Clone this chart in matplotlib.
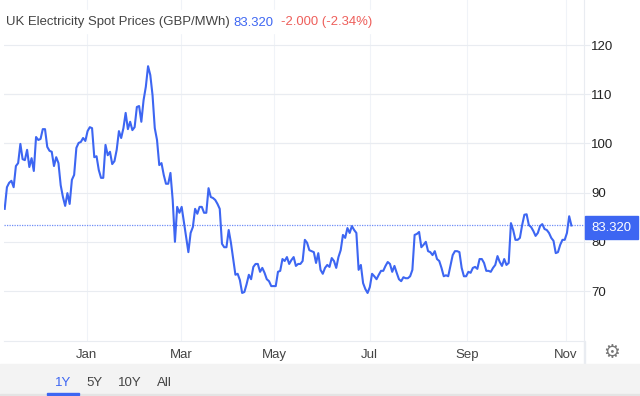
import numpy as np
import matplotlib
matplotlib.use("Agg")
import matplotlib.pyplot as plt
from matplotlib.patches import Rectangle

plt.rcParams['font.family'] = ['Liberation Sans', 'DejaVu Sans']

# one value per trading session
prices = [86.7, 91.1, 92.0, 92.4, 91.1, 95.4, 96.0, 99.9, 96.8, 96.6,
          98.7, 95.2, 97.0, 94.4, 101.3, 100.7, 100.9, 102.9, 102.9, 99.3,
          98.5, 98.3, 95.4, 97.2, 96.0, 91.5, 89.1, 87.3, 89.9, 87.7,
          92.6, 93.6, 99.1, 100.1, 100.3, 101.1, 100.5, 102.5, 103.3, 103.1,
          97.2, 97.4, 94.6, 93.0, 93.0, 99.7, 97.6, 98.3, 95.8, 96.4,
          98.7, 102.5, 101.1, 103.1, 106.2, 102.9, 104.4, 102.7, 103.3, 107.4,
          107.6, 104.4, 108.8, 111.5, 115.7, 113.9, 109.8, 103.1, 100.7, 95.6,
          96.0, 93.6, 91.8, 91.8, 94.0, 88.5, 80.0, 87.1, 85.9, 87.1,
          84.0, 81.0, 77.9, 81.8, 83.0, 86.7, 85.7, 87.1, 87.1, 85.9,
          85.9, 90.9, 89.1, 88.9, 88.5, 87.7, 86.7, 79.6, 78.9, 78.9,
          82.4, 79.8, 76.5, 73.3, 73.5, 72.2, 69.6, 69.8, 71.4, 73.3,
          72.4, 74.9, 75.5, 75.5, 73.9, 74.7, 73.7, 72.4, 72.0, 71.0,
          71.0, 71.0, 73.9, 74.1, 76.5, 76.1, 76.9, 75.5, 76.3, 76.9,
          75.1, 75.5, 75.5, 76.1, 80.4, 79.8, 78.3, 78.1, 77.9, 75.7,
          77.7, 74.3, 73.5, 74.7, 75.3, 74.9, 76.7, 76.1, 74.7, 76.9,
          78.3, 81.4, 80.8, 82.8, 81.8, 83.2, 82.4, 81.8, 74.3, 75.3,
          71.6, 70.4, 69.6, 70.8, 73.5, 73.0, 72.4, 73.3, 74.1, 74.1,
          75.1, 75.9, 75.5, 73.9, 75.1, 73.7, 72.4, 72.0, 72.8, 72.6,
          72.6, 73.0, 74.3, 81.4, 81.6, 82.0, 78.9, 79.4, 80.0, 78.1,
          77.9, 77.3, 78.1, 76.5, 76.1, 74.7, 73.0, 73.2, 73.0, 75.1,
          77.3, 78.1, 78.1, 77.9, 74.7, 73.0, 73.0, 73.9, 73.7, 74.7,
          74.9, 74.5, 76.5, 76.5, 75.7, 74.1, 74.1, 73.9, 74.7, 75.3,
          77.1, 75.9, 75.1, 76.5, 75.3, 75.7, 83.8, 82.4, 80.4, 80.4,
          80.8, 83.4, 85.5, 85.6, 83.4, 83.0, 82.2, 81.2, 81.8, 83.2,
          83.6, 82.6, 82.4, 81.8, 80.8, 80.2, 77.7, 77.9, 79.4, 80.4,
          80.4, 81.8, 85.2, 83.32]
last_label = "83.320"
change_label = "-2.000 (-2.34%)"
title = "UK Electricity Spot Prices (GBP/MWh)"
month_ticks = [36.7, 78.7, 120.4, 162.9, 206.6, 250.6]
month_labels = ["Jan", "Mar", "May", "Jul", "Sep", "Nov"]
price_ticks = [70, 80, 90, 100, 110, 120]
ranges = ["1Y", "5Y", "10Y", "All"]

W, H = 640, 396
BLUE = '#3d66f2'
GRID = '#e9ecf1'
def fx(p): return p / W
def fy(p): return 1 - p / H

fig = plt.figure(figsize=(6.4, 3.96), dpi=100, facecolor='white')
ax = fig.add_axes([fx(4), fy(341), (584.3 - 4) / W, 341 / H])
ax.plot(np.arange(len(prices)), prices, color=BLUE, lw=1.5, solid_joinstyle='round', zorder=3)
ax.axhline(prices[-1], color='#6f8df7', lw=0.9, ls=(0, (1, 1)), zorder=2)
ax.set_xlim(-0.31, 258.75)
ax.set_ylim(59.84, 129.15)

ax.set_xticks(month_ticks)
ax.set_xticklabels(month_labels, fontsize=9.5, color='#444444')
ax.set_yticks(price_ticks)
ax.set_yticklabels([str(v) for v in price_ticks], fontsize=9.5, color='#222222')
ax.yaxis.tick_right()
ax.tick_params(axis='x', length=0, pad=6)
ax.tick_params(axis='y', length=4, width=0.8, color=GRID, pad=1)
ax.grid(axis='y', color=GRID, lw=0.8, zorder=0)
ax.grid(axis='x', color='#f0f3f8', lw=0.8, zorder=0)
for s in ['top', 'left']:
    ax.spines[s].set_visible(False)
ax.spines['right'].set_color(GRID)
ax.spines['bottom'].set_color(GRID)

# pinkish tint on the upper gridlines
ax.axhline(110, color='#f5e6ea', lw=0.8, zorder=1)
ax.axhline(100, color='#f3e9ec', lw=0.8, zorder=1)

# title band
fig.add_artist(Rectangle((fx(4), fy(33)), fx(374), 23 / H, color='white', zorder=2))
fig.text(fx(6), fy(22.5), title, fontsize=9.45, color='#444444', va='center', zorder=3)
fig.text(fx(233), fy(22.5), last_label, fontsize=9.45, color=BLUE, va='center', zorder=3)
fig.text(fx(281), fy(22.5), change_label, fontsize=9.45, color='#ee5f5b', va='center', zorder=3)

# price flag on the right axis
fig.add_artist(Rectangle((fx(585), fy(239)), 53 / W, 23 / H, color=BLUE, zorder=2))
fig.text(fx(611.5), fy(228), last_label, fontsize=9.45, color='white', ha='center', va='center', zorder=3)

# settings gear
fig.text(fx(611.5), fy(352.5), "\u2699", fontsize=13.5, color='#777777', ha='center', va='center',
         family='DejaVu Sans', zorder=3)

# right column divider and range selector bar
fig.add_artist(Rectangle((fx(584), fy(364)), 1 / W, 23 / H, color=GRID, zorder=2))
fig.add_artist(Rectangle((0, 0), 1, 32 / H, color='#f3f3f3', zorder=2))
fig.add_artist(Rectangle((0, 0), 1, 2 / H, color='#e4e4e4', zorder=2))
for lab, cx, c in zip(ranges, [63, 94, 130, 164], [BLUE, '#444444', '#444444', '#444444']):
    fig.text(fx(cx), fy(383), lab, fontsize=9.5, color=c, ha='center', va='center', zorder=3)
fig.add_artist(Rectangle((fx(47), fy(394.5)), 32 / W, 2 / H, color=BLUE, zorder=3))

fig.savefig('out.png', dpi=100)
